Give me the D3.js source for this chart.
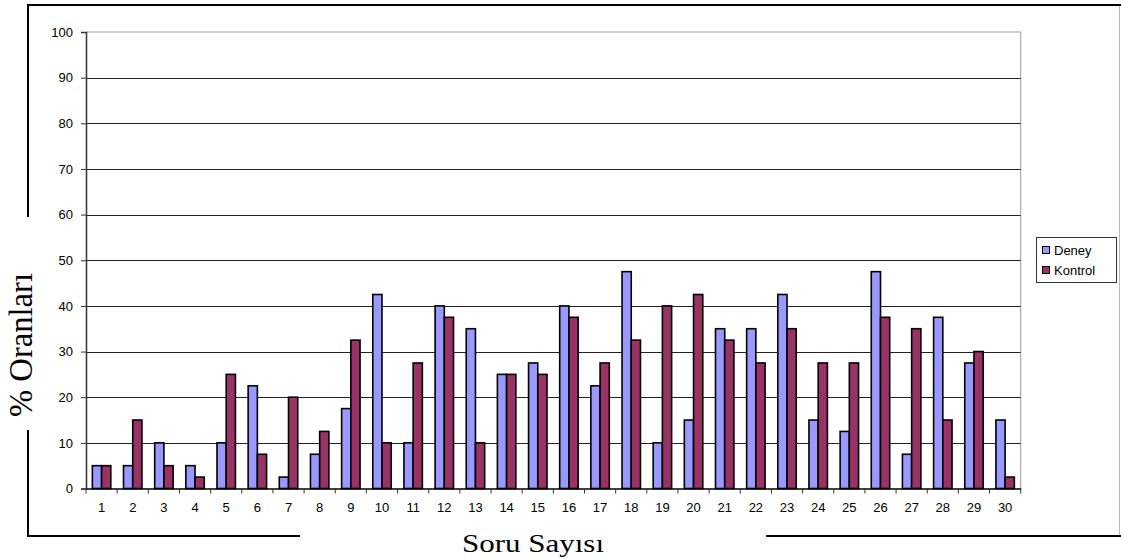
<!DOCTYPE html>
<html><head><meta charset="utf-8">
<script src="https://cdn.jsdelivr.net/npm/d3@7"></script>
<style>body{margin:0;background:#fff}svg{display:block}</style>
</head><body><svg id="c" width="1121" height="559"></svg>
<script>
const categories = d3.range(1,31).map(String);
const seriesNames = ["Deney","Kontrol"];
const deney   = [5,5,10,5,10,22.5,2.5,7.5,17.5,42.5,10,40,35,25,27.5,40,22.5,47.5,10,15,35,35,42.5,15,12.5,47.5,7.5,37.5,27.5,15];
const kontrol = [5,15,5,2.5,25,7.5,20,12.5,32.5,10,27.5,37.5,10,25,25,37.5,27.5,32.5,40,42.5,32.5,27.5,35,27.5,27.5,37.5,35,15,30,2.5];
const yTicks = [0,10,20,30,40,50,60,70,80,90,100];
const colors = ["#9999FF","#993366"];
const yTitle = "%  Oranları";
const xTitle = "Soru Sayısı";

const svg = d3.select("#c");
const L=86, R=1020.7, T=32, B=488.5;
const x = d3.scaleBand().domain(categories).range([L,R]).padding(0);
const xs = d3.scaleBand().domain(seriesNames).range([0,x.step()]).paddingInner(0).paddingOuter(0.69);
const y = d3.scaleLinear().domain([0,100]).range([B,T]);

// outer frame
const fr = svg.append("g").attr("stroke","#000").attr("stroke-width",2).attr("fill","none");
fr.append("line").attr("x1",28).attr("y1",5).attr("x2",1121).attr("y2",5);
fr.append("line").attr("x1",28).attr("y1",4).attr("x2",28).attr("y2",217);
fr.append("line").attr("x1",28).attr("y1",430).attr("x2",28).attr("y2",537);
fr.append("line").attr("x1",27).attr("y1",536).attr("x2",300).attr("y2",536);
fr.append("line").attr("x1",766).attr("y1",536).attr("x2",1121).attr("y2",536);
svg.append("line").attr("x1",1119.5).attr("y1",6).attr("x2",1119.5).attr("y2",535).attr("stroke","#bbb").attr("stroke-width",1);

// plot area border (gray)
svg.append("line").attr("x1",L).attr("y1",y(100)).attr("x2",R).attr("y2",y(100)).attr("stroke","#999");
svg.append("line").attr("x1",R).attr("y1",T).attr("x2",R).attr("y2",B).attr("stroke","#999");

// gridlines
svg.append("g").selectAll("line").data(yTicks.filter(d=>d>0&&d<100)).join("line")
  .attr("x1",L).attr("x2",R).attr("y1",d=>Math.round(y(d))+0.5).attr("y2",d=>Math.round(y(d))+0.5)
  .attr("stroke","#222").attr("stroke-width",1);

// bars
const data = categories.map((c,i)=>({c, vals:[deney[i],kontrol[i]]}));
const g = svg.append("g").selectAll("g").data(data).join("g").attr("transform",d=>`translate(${x(d.c)},0)`);
g.selectAll("rect").data(d=>d.vals.map((v,j)=>({k:seriesNames[j],v,j}))).join("rect")
  .attr("x",d=>xs(d.k)).attr("width",xs.bandwidth())
  .attr("y",d=>y(d.v)).attr("height",d=>B-y(d.v))
  .attr("fill",d=>colors[d.j]).attr("stroke","#000").attr("stroke-width",1.6);

// y axis
const ya = svg.append("g").attr("transform",`translate(${L},0)`)
  .call(d3.axisLeft(y).tickValues(yTicks).tickSize(5).tickPadding(8));
ya.select(".domain").attr("stroke","#333").attr("stroke-width",1.5);
ya.selectAll(".tick line").attr("stroke","#333");
ya.selectAll("text").attr("font-family","Liberation Sans, Arial, sans-serif").attr("font-size",13).attr("fill","#000");

// x axis
const xa = svg.append("g").attr("transform",`translate(0,${B})`)
  .call(d3.axisBottom(x).tickSize(0).tickPadding(14));
xa.select(".domain").attr("stroke","#000").attr("stroke-width",1.5);
xa.selectAll("text").attr("font-family","Liberation Sans, Arial, sans-serif").attr("font-size",13).attr("fill","#000");
svg.append("g").selectAll("line").data(categories.concat(["end"])).join("line")
  .attr("x1",(d,i)=>L+i*x.step()).attr("x2",(d,i)=>L+i*x.step())
  .attr("y1",B).attr("y2",B+5).attr("stroke","#333");

// titles
svg.append("text").attr("transform","translate(32,345) scale(1.1,1) rotate(-90)")
  .attr("text-anchor","middle").attr("font-family","Liberation Serif, Times New Roman, serif")
  .attr("font-size",30).attr("textLength",144).attr("lengthAdjust","spacingAndGlyphs")
  .attr("fill","#000").text(yTitle);
svg.append("text").attr("x",533).attr("y",552).attr("text-anchor","middle")
  .attr("font-family","Liberation Serif, Times New Roman, serif").attr("font-size",25)
  .attr("textLength",142).attr("lengthAdjust","spacingAndGlyphs").attr("fill","#000").text(xTitle);

// legend
const lg = svg.append("g");
lg.append("rect").attr("x",1036.5).attr("y",237.5).attr("width",80).attr("height",45).attr("fill","#fff").attr("stroke","#333");
seriesNames.forEach((n,i)=>{
  lg.append("rect").attr("x",1042.5).attr("y",246.5+i*20).attr("width",7).attr("height",7).attr("fill",colors[i]).attr("stroke","#000");
  lg.append("text").attr("x",1054).attr("y",255+i*20).attr("font-family","Liberation Sans, Arial, sans-serif").attr("font-size",13).attr("fill","#000").text(n);
});
</script></body></html>
